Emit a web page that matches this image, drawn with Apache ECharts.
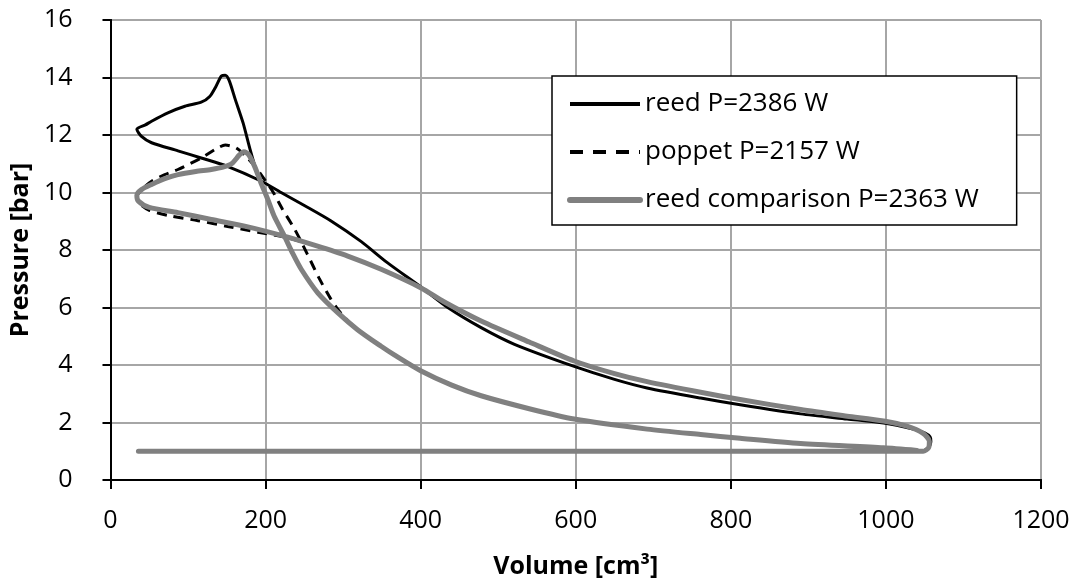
<!DOCTYPE html>
<html>
<head>
<meta charset="utf-8">
<title>Pressure vs volume</title>
<script src="https://cdn.jsdelivr.net/npm/echarts@6/dist/echarts.min.js"></script>
<style>
  html, body { margin: 0; padding: 0; background: #fff; }
  #chart { width: 1079px; height: 584px; }
</style>
</head>
<body>
<div id="chart"></div>
<script>
// values (volume in cm3, pressure in bar)
const reedVolume = [40, 500, 1045, 1055, 1058, 1057, 1050, 1035, 997, 950, 890, 812, 761, 692, 650, 598, 521, 478, 435, 400, 357, 323, 284, 250, 220, 194, 150, 117, 87, 53, 40, 34,
  45, 53, 74, 96, 117, 128, 136, 143, 148, 153, 161, 171, 180, 189, 196, 203, 211, 224, 235, 246, 267, 293, 319, 349, 366, 400, 440, 478, 540, 598, 692, 761, 812, 890, 997, 1040]
const reedPressure = [1.0, 1.0, 1.0, 1.12, 1.35, 1.5, 1.64, 1.77, 1.98, 2.12, 2.3, 2.62, 2.85, 3.2, 3.5, 3.95, 4.72, 5.3, 6.0, 6.72, 7.56, 8.3, 9.02, 9.55, 10.0, 10.4, 10.92, 11.2, 11.45, 11.73, 11.95, 12.2,
  12.35, 12.48, 12.77, 13.0, 13.14, 13.34, 13.69, 14.05, 14.08, 13.9, 13.23, 12.42, 11.5, 10.68, 10.22, 9.75, 9.18, 8.5, 7.88, 7.33, 6.52, 5.82, 5.22, 4.65, 4.35, 3.8, 3.3, 2.93, 2.48, 2.12, 1.77, 1.58, 1.45, 1.27, 1.12, 1.03]

const poppetVolume = [40, 500, 1048, 1055, 1056, 1048, 1027, 997, 950, 890, 812, 761, 692, 650, 598, 540, 478, 430, 400, 349, 306, 265, 224, 190, 151, 113, 78, 50, 38, 34,
  40, 53, 70, 87, 117, 135, 148, 162, 175, 188, 200, 210, 222, 238, 254, 269, 284, 293, 301, 319, 349, 366, 400, 440, 478, 540, 598, 692, 761, 812, 890, 997, 1040]
const poppetPressure = [1.0, 1.0, 1.0, 1.12, 1.35, 1.62, 1.87, 2.05, 2.22, 2.45, 2.8, 3.05, 3.42, 3.7, 4.14, 4.8, 5.53, 6.2, 6.69, 7.33, 7.79, 8.15, 8.45, 8.62, 8.82, 9.02, 9.18, 9.38, 9.6, 9.85,
  10.1, 10.39, 10.62, 10.8, 11.2, 11.5, 11.65, 11.55, 11.25, 10.85, 10.4, 10.0, 9.41, 8.7, 7.85, 7.02, 6.3, 5.94, 5.68, 5.22, 4.65, 4.35, 3.8, 3.3, 2.93, 2.48, 2.12, 1.77, 1.58, 1.45, 1.27, 1.12, 1.03]

const compVolume = [36, 500, 1048, 1055, 1056, 1048, 1027, 997, 950, 890, 812, 761, 692, 650, 598, 540, 478, 430, 400, 349, 306, 265, 224, 173, 130, 87, 50, 36, 34,
  40, 53, 70, 87, 110, 130, 145, 157, 166, 172, 178, 186, 194, 203, 211, 224, 235, 246, 267, 293, 319, 349, 366, 400, 440, 478, 540, 598, 692, 761, 812, 890, 997, 1040]
const compPressure = [1.0, 1.0, 1.0, 1.12, 1.35, 1.62, 1.87, 2.05, 2.22, 2.45, 2.8, 3.05, 3.42, 3.7, 4.14, 4.8, 5.53, 6.2, 6.69, 7.33, 7.79, 8.15, 8.48, 8.83, 9.06, 9.3, 9.48, 9.7, 9.9,
  10.1, 10.28, 10.48, 10.62, 10.73, 10.8, 10.88, 11.02, 11.3, 11.42, 11.32, 10.9, 10.34, 9.75, 9.18, 8.5, 7.88, 7.33, 6.52, 5.82, 5.22, 4.65, 4.35, 3.8, 3.3, 2.93, 2.48, 2.12, 1.77, 1.58, 1.45, 1.27, 1.12, 1.03]

const seriesNames = ['reed P=2386 W', 'poppet P=2157 W', 'reed comparison P=2363 W']
const xTicks = [0, 1200, 200]
const yTicks = [0, 16, 2]

const zip = (xs, ys) => xs.map((x, i) => [x, ys[i]])

const font = 'Open Sans'
const chart = echarts.init(document.getElementById('chart'))

chart.setOption({
  animation: false,
  backgroundColor: '#fff',
  grid: { left: 109, right: 38, top: 20, bottom: 103 },
  legend: {
    orient: 'vertical',
    left: 552,
    top: 76,
    padding: [15, 38, 12, 15],
    itemGap: 22,
    itemWidth: 70,
    itemHeight: 14,
    borderColor: '#000',
    borderWidth: 1.5,
    backgroundColor: '#fff',
    itemStyle: { opacity: 0 },
    textStyle: { fontFamily: font, fontSize: 26, color: '#000' },
    data: [
      { name: seriesNames[0], lineStyle: { color: '#000', width: 4 } },
      { name: seriesNames[1], lineStyle: { color: '#000', width: 4, type: [13, 10] } },
      { name: seriesNames[2], lineStyle: { color: '#808080', width: 6, cap: 'round' } }
    ]
  },
  xAxis: [
    {
      type: 'value',
      min: xTicks[0],
      max: xTicks[1],
      interval: xTicks[2],
      name: 'Volume [cm³]',
      nameLocation: 'middle',
      nameGap: 74,
      nameTextStyle: { fontFamily: font, fontSize: 25, fontWeight: 'bold', color: '#000' },
      axisLine: { lineStyle: { color: '#000', width: 2 } },
      axisTick: { length: 9, lineStyle: { color: '#000', width: 2 } },
      axisLabel: { margin: 28, fontFamily: font, fontSize: 25, color: '#000', formatter: v => String(v) },
      splitLine: { lineStyle: { color: '#a6a6a6', width: 2 } }
    },
    {
      type: 'value',
      position: 'top',
      min: xTicks[0],
      max: xTicks[1],
      interval: xTicks[2],
      axisLine: { lineStyle: { color: '#000', width: 2 } },
      axisTick: { show: false },
      axisLabel: { show: false },
      splitLine: { show: false }
    }
  ],
  yAxis: [
    {
      type: 'value',
      min: yTicks[0],
      max: yTicks[1],
      interval: yTicks[2],
      name: 'Pressure [bar]',
      nameLocation: 'middle',
      nameGap: 70,
      nameTextStyle: { fontFamily: font, fontSize: 25, fontWeight: 'bold', color: '#000' },
      axisLine: { show: true, lineStyle: { color: '#000', width: 2 } },
      axisTick: { show: true, length: 8, lineStyle: { color: '#000', width: 2 } },
      axisLabel: { margin: 38, fontFamily: font, fontSize: 25, color: '#000' },
      splitLine: { lineStyle: { color: '#a6a6a6', width: 2 } }
    },
    {
      type: 'value',
      position: 'right',
      min: yTicks[0],
      max: yTicks[1],
      interval: yTicks[2],
      axisLine: { show: true, lineStyle: { color: '#000', width: 2 } },
      axisTick: { show: false },
      axisLabel: { show: false },
      splitLine: { show: false }
    }
  ],
  series: [
    {
      name: seriesNames[0],
      type: 'line',
      data: zip(reedVolume, reedPressure),
      symbol: 'none',
      smooth: 0.25,
      color: '#000',
      lineStyle: { color: '#000', width: 3, join: 'round' }
    },
    {
      name: seriesNames[1],
      type: 'line',
      data: zip(poppetVolume, poppetPressure),
      symbol: 'none',
      smooth: 0.25,
      color: '#000',
      lineStyle: { color: '#000', width: 3, type: [10, 7] }
    },
    {
      name: seriesNames[2],
      type: 'line',
      data: zip(compVolume, compPressure),
      symbol: 'none',
      smooth: 0.25,
      color: '#808080',
      lineStyle: { color: '#808080', width: 5, cap: 'round', join: 'round' }
    }
  ]
})
</script>
</body>
</html>
